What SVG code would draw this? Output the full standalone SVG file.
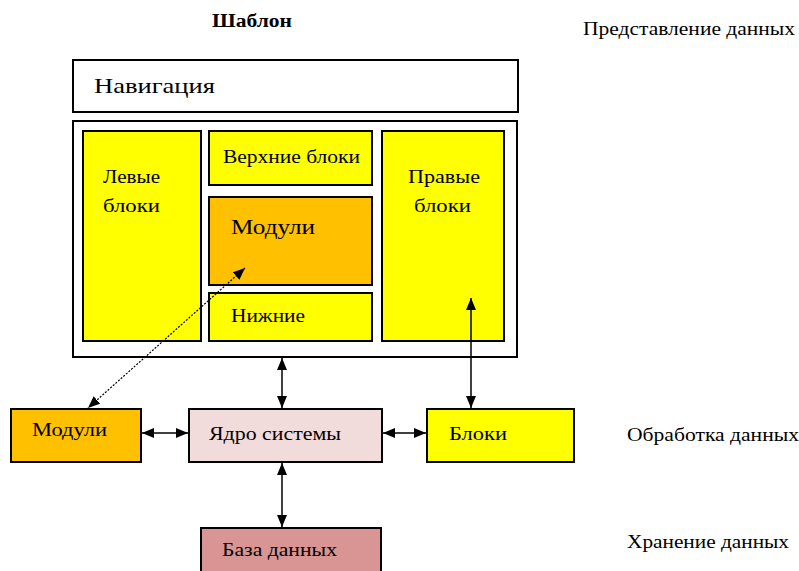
<svg xmlns="http://www.w3.org/2000/svg" width="799" height="571" viewBox="0 0 799 571">
<style>
text{font-family:'Liberation Serif','DejaVu Serif',serif;fill:#000;font-size:18px}
.box{stroke:#000;stroke-width:2}
.yel{fill:#FFFF00}
.org{fill:#FFC000}
.ln{stroke:#000;stroke-width:1.5;fill:none}
.dot{stroke:#000;stroke-width:1.2;fill:none;stroke-dasharray:2 1.5}
.big{font-size:22px}
</style>
<defs>
<marker id="ah" viewBox="0 0 12 10" refX="12" refY="5" markerWidth="12" markerHeight="10" markerUnits="userSpaceOnUse" orient="auto-start-reverse">
<path d="M0,0 L12,5 L0,10 z" fill="#000"/>
</marker>
</defs>
<rect width="799" height="571" fill="#fff"/>
<text x="252" y="27" text-anchor="middle" font-weight="bold" textLength="80" lengthAdjust="spacingAndGlyphs">Шаблон</text>
<text x="583" y="35" textLength="212" lengthAdjust="spacingAndGlyphs">Представление данных</text>
<text x="627" y="441" textLength="172" lengthAdjust="spacingAndGlyphs">Обработка данных</text>
<text x="627" y="548" textLength="162" lengthAdjust="spacingAndGlyphs">Хранение данных</text>
<g id="nav">
<rect class="box" x="73" y="60" width="445" height="52" fill="#fff"/>
<text class="big" x="94" y="93" textLength="121" lengthAdjust="spacingAndGlyphs">Навигация</text>
</g>
<g id="container">
<rect class="box" x="73" y="121" width="444" height="236" fill="#fff"/>
</g>
<g id="left">
<rect class="box yel" x="83" y="131" width="118" height="210"/>
<text x="103" y="183" textLength="57" lengthAdjust="spacingAndGlyphs">Левые</text>
<text x="103" y="212" textLength="57" lengthAdjust="spacingAndGlyphs">блоки</text>
</g>
<g id="top">
<rect class="box yel" x="209" y="131" width="163" height="54"/>
<text x="223" y="163" textLength="137" lengthAdjust="spacingAndGlyphs">Верхние блоки</text>
</g>
<g id="modules-inner">
<rect class="box org" x="209" y="197" width="163" height="88"/>
<text class="big" x="231" y="234" textLength="84" lengthAdjust="spacingAndGlyphs">Модули</text>
</g>
<g id="bottom">
<rect class="box yel" x="209" y="293" width="163" height="48"/>
<text x="231" y="322" textLength="74" lengthAdjust="spacingAndGlyphs">Нижние</text>
</g>
<g id="right">
<rect class="box yel" x="382" y="131" width="122" height="210"/>
<text x="408" y="183" textLength="72" lengthAdjust="spacingAndGlyphs">Правые</text>
<text x="414" y="212" textLength="57" lengthAdjust="spacingAndGlyphs">блоки</text>
</g>
<g id="modules">
<rect class="box org" x="11" y="409" width="130" height="53"/>
<text x="32" y="436" textLength="75" lengthAdjust="spacingAndGlyphs">Модули</text>
</g>
<g id="core">
<rect class="box" x="189" y="409" width="193" height="53" fill="#F2DCDB"/>
<text x="209" y="440" textLength="132" lengthAdjust="spacingAndGlyphs">Ядро системы</text>
</g>
<g id="blocks">
<rect class="box yel" x="427" y="409" width="147" height="53"/>
<text x="449" y="440" textLength="58" lengthAdjust="spacingAndGlyphs">Блоки</text>
</g>
<g id="db">
<rect class="box" x="201" y="528" width="180" height="50" fill="#D99594"/>
<text x="222" y="556" textLength="115" lengthAdjust="spacingAndGlyphs">База данных</text>
</g>
<g id="connectors">
<line class="dot" x1="245" y1="268" x2="88" y2="408" marker-start="url(#ah)" marker-end="url(#ah)"/>
<line class="ln" x1="282" y1="358" x2="282" y2="408" marker-start="url(#ah)" marker-end="url(#ah)"/>
<line class="ln" x1="471" y1="298" x2="471" y2="408" marker-start="url(#ah)" marker-end="url(#ah)"/>
<line class="ln" x1="142" y1="433" x2="188" y2="433" marker-start="url(#ah)" marker-end="url(#ah)"/>
<line class="ln" x1="383" y1="433" x2="426" y2="433" marker-start="url(#ah)" marker-end="url(#ah)"/>
<line class="ln" x1="282" y1="463" x2="282" y2="527" marker-start="url(#ah)" marker-end="url(#ah)"/>
</g>
</svg>
